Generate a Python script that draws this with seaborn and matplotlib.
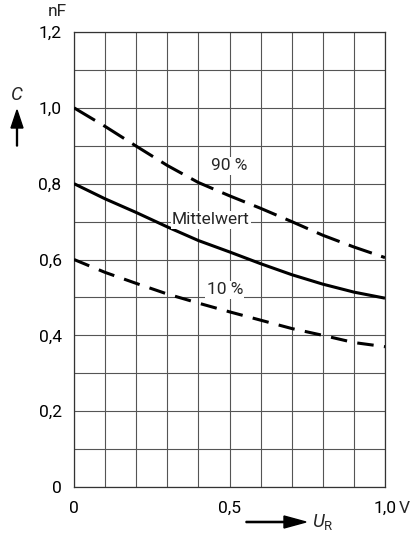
import matplotlib
matplotlib.use("Agg")
import matplotlib.pyplot as plt
import seaborn as sns
import pandas as pd

# Data
u_r = [0.0, 0.1, 0.2, 0.3, 0.4, 0.5, 0.6, 0.7, 0.8, 0.9, 1.0]
c_90 = [1.00, 0.951, 0.899, 0.848, 0.803, 0.768, 0.735, 0.700, 0.664, 0.633, 0.605]
c_mean = [0.80, 0.760, 0.724, 0.686, 0.650, 0.620, 0.589, 0.560, 0.535, 0.514, 0.498]
c_10 = [0.60, 0.566, 0.537, 0.509, 0.485, 0.462, 0.440, 0.418, 0.400, 0.381, 0.370]

y_ticks = [0, 0.2, 0.4, 0.6, 0.8, 1.0, 1.2]
y_ticklabels = ["0", "0,2", "0,4", "0,6", "0,8", "1,0", "1,2"]
x_ticks = [0, 0.5, 1.0]
x_ticklabels = ["0", "0,5", "1,0"]

sns.set_theme(style="white")
plt.rcParams['font.family'] = ['Roboto', 'DejaVu Sans']
plt.rcParams['mathtext.fontset'] = 'custom'
plt.rcParams['mathtext.rm'] = 'Roboto'
plt.rcParams['mathtext.it'] = 'Roboto:italic'

FS = 12.5
W, H = 417, 544
fig = plt.figure(figsize=(W / 100, H / 100), dpi=100)
ax = fig.add_axes([74 / W, 1 - 487 / H, (385 - 74) / W, (487 - 32) / H])

df = pd.DataFrame({"U": u_r, "c90": c_90, "cm": c_mean, "c10": c_10})

sns.lineplot(data=df, x="U", y="c90", ax=ax, color="black", lw=2.2)
sns.lineplot(data=df, x="U", y="cm", ax=ax, color="black", lw=2.2)
sns.lineplot(data=df, x="U", y="c10", ax=ax, color="black", lw=2.2)
lines = ax.get_lines()
lines[0].set_linestyle((0, (8.0, 3.2)))
lines[2].set_linestyle((0, (5.4, 3.4)))
for ln in lines:
    ln.set_zorder(3)
    ln.set_solid_capstyle("butt")
    ln.set_dash_capstyle("butt")

ax.set_xlim(0, 1.0)
ax.set_ylim(0, 1.2)
ax.set_xticks([i / 10 for i in range(11)], minor=True)
ax.set_yticks([i / 10 for i in range(13)], minor=True)
ax.set_xticks(x_ticks)
ax.set_xticklabels(x_ticklabels)
ax.set_yticks(y_ticks)
ax.set_yticklabels(y_ticklabels)
ax.grid(True, which="both", color="#555555", lw=0.8)
ax.tick_params(axis="both", which="both", length=0, labelsize=FS, colors="black")
ax.tick_params(axis="y", pad=9)
ax.tick_params(axis="x", pad=10)
for s in ax.spines.values():
    s.set_color("#333333")
    s.set_linewidth(0.9)
ax.set_xlabel("")
ax.set_ylabel("")

bbox = dict(facecolor="white", edgecolor="none", pad=1.0)
ax.text(0.50, 0.847, "90 %", ha="center", va="center", fontsize=FS, bbox=bbox, zorder=4)
ax.text(0.44, 0.705, "Mittelwert", ha="center", va="center", fontsize=FS, bbox=bbox, zorder=4)
ax.text(0.485, 0.52, "10 %", ha="center", va="center", fontsize=FS, bbox=bbox, zorder=4)

# unit after x tick label
ax.text(1.062, -0.056, "V", ha="center", va="center", fontsize=FS)

# nF unit and C symbol
fig.text(57 / W, 1 - 11 / H, "nF", ha="center", va="center", fontsize=FS)
fig.text(17 / W, 1 - 95 / H, "$C$", ha="center", va="center", fontsize=FS + 1)
fig.patches.append(matplotlib.patches.FancyArrow(
    17 / W, 1 - 146 / H, 0, 36 / H, width=1.2 / H, head_width=12 / W,
    head_length=18 / H, length_includes_head=True, color="black",
    transform=fig.transFigure, figure=fig))

# U_R axis label with arrow
fig.patches.append(matplotlib.patches.FancyArrow(
    246 / W, 1 - 522 / H, 60 / W, 0, width=1.2 / H, head_width=12 / H,
    head_length=22 / W, length_includes_head=True, color="black",
    transform=fig.transFigure, figure=fig))
fig.text(323 / W, 1 - 522 / H, r"$U_\mathrm{R}$", ha="center", va="center", fontsize=FS + 1)

fig.savefig("out.png", dpi=100)
